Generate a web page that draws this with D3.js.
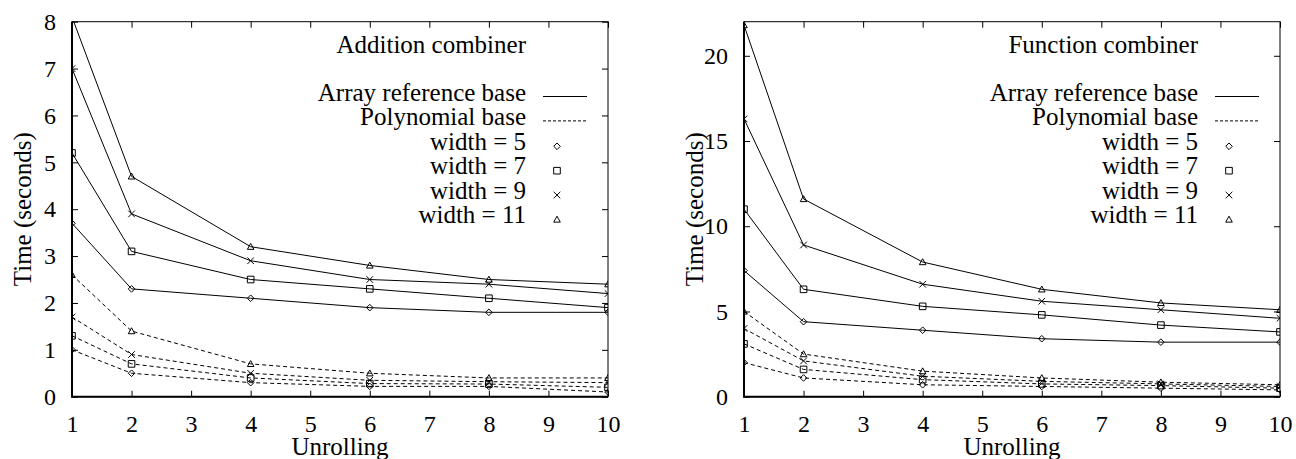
<!DOCTYPE html>
<html>
<head>
    <meta charset='utf-8' />
    <title>Unrolling timings</title>
    <script charset="utf-8" src="https://d3js.org/d3.v7.min.js"></script>
    <style>
        body {
            margin: 0;
            background: #fff;
        }

        svg text {
            font-family: 'Liberation Serif', 'Times New Roman', serif;
            font-size: 25px;
            fill: #000;
        }

        svg .tick text {
            font-size: 24px;
        }
    </style>
</head>
<body>
<div id="chartContainer"></div>
<script>
    // values, one row per width (5, 7, 9, 11)
    var widths = [5, 7, 9, 11]
    var unrolling = [1, 2, 4, 6, 8, 10]
    var xTicks = [1, 2, 3, 4, 5, 6, 7, 8, 9, 10]

    var additionArrayRef = [
        [3.7, 2.3, 2.1, 1.9, 1.8, 1.8],
        [5.2, 3.1, 2.5, 2.3, 2.1, 1.9],
        [7.0, 3.9, 2.9, 2.5, 2.4, 2.2],
        [8.1, 4.7, 3.2, 2.8, 2.5, 2.4]
    ]
    var additionPoly = [
        [1.0, 0.5, 0.3, 0.22, 0.22, 0.1],
        [1.3, 0.7, 0.4, 0.28, 0.27, 0.2],
        [1.7, 0.9, 0.5, 0.35, 0.32, 0.3],
        [2.6, 1.4, 0.7, 0.5, 0.4, 0.4]
    ]
    var additionYTicks = [0, 1, 2, 3, 4, 5, 6, 7, 8]

    var functionArrayRef = [
        [7.4, 4.4, 3.9, 3.4, 3.2, 3.2],
        [11.0, 6.3, 5.3, 4.8, 4.2, 3.8],
        [16.3, 8.9, 6.6, 5.6, 5.1, 4.6],
        [21.8, 11.6, 7.9, 6.3, 5.5, 5.1]
    ]
    var functionPoly = [
        [2.0, 1.1, 0.7, 0.6, 0.5, 0.4],
        [3.1, 1.6, 1.0, 0.75, 0.65, 0.5],
        [4.0, 2.1, 1.2, 0.9, 0.75, 0.6],
        [5.0, 2.5, 1.5, 1.1, 0.85, 0.7]
    ]
    var functionYTicks = [0, 5, 10, 15, 20]

    var legendLabels = ["Array reference base", "Polynomial base"]

    var width = 1296
    var height = 459
    var svg = d3.select("#chartContainer").append("svg")
        .attr("width", width)
        .attr("height", height)

    // hollow gnuplot style point shapes
    var s = 3.3
    var markerPaths = [
        "M0," + -s + "L" + s + ",0L0," + s + "L" + -s + ",0Z",
        "M" + -s + "," + -s + "h" + 2 * s + "v" + 2 * s + "h" + -2 * s + "Z",
        "M" + -s + "," + -s + "L" + s + "," + s + "M" + -s + "," + s + "L" + s + "," + -s,
        "M0," + -s + "L" + s + "," + s * 0.8 + "L" + -s + "," + s * 0.8 + "Z"
    ]

    function drawPanel(id, left, right, ymax, yTicks, title, arrayRef, poly, yTitleX) {
        var top = 21.7, bottom = 396.7
        var x = d3.scaleLinear().domain([1, 10]).range([left, right])
        var y = d3.scaleLinear().domain([0, ymax]).range([bottom, top])
        var g = svg.append("g")

        g.append("clipPath").attr("id", id)
            .append("rect")
            .attr("x", left).attr("y", top)
            .attr("width", right - left).attr("height", bottom - top)

        // axes with inward ticks, mirrored on top and right
        g.append("g").attr("transform", "translate(0," + bottom + ")")
            .call(d3.axisBottom(x).tickValues(xTicks).tickSize(-6).tickPadding(18))
        g.append("g").attr("transform", "translate(" + left + ",0)")
            .call(d3.axisLeft(y).tickValues(yTicks).tickSize(-6).tickPadding(16))
        g.append("g").attr("transform", "translate(0," + top + ")")
            .call(d3.axisTop(x).tickValues(xTicks).tickSize(-6).tickFormat(""))
        g.append("g").attr("transform", "translate(" + right + ",0)")
            .call(d3.axisRight(y).tickValues(yTicks).tickSize(-6).tickFormat(""))
        g.selectAll(".domain").remove()

        g.append("rect")
            .attr("x", left).attr("y", top)
            .attr("width", right - left).attr("height", bottom - top)
            .attr("fill", "none").attr("stroke", "#000").attr("stroke-width", 1)
        g.append("path")
            .attr("d", "M" + left + "," + top + "V" + bottom + "H" + right)
            .attr("fill", "none").attr("stroke", "#000").attr("stroke-width", 2)

        g.append("text")
            .attr("x", (left + right) / 2).attr("y", 455)
            .attr("text-anchor", "middle")
            .text("Unrolling")
        g.append("text")
            .attr("transform", "translate(" + yTitleX + "," + (top + bottom) / 2 + ") rotate(-90)")
            .attr("text-anchor", "middle")
            .text("Time (seconds)")

        var line = d3.line()
            .x(function (d, i) { return x(unrolling[i]) })
            .y(function (d) { return y(d) })

        var plot = g.append("g").attr("clip-path", "url(#" + id + ")")
        var sets = [{ rows: arrayRef, dash: null }, { rows: poly, dash: "4,3" }]
        sets.forEach(function (set) {
            set.rows.forEach(function (row, k) {
                plot.append("path")
                    .attr("d", line(row))
                    .attr("fill", "none")
                    .attr("stroke", "#000")
                    .attr("stroke-width", 1)
                    .attr("stroke-dasharray", set.dash)
                plot.selectAll(null)
                    .data(row.map(function (d, i) { return [unrolling[i], d] })
                        .filter(function (p) { return p[1] <= ymax }))
                    .enter()
                    .append("path")
                    .attr("transform", function (p) {
                        return "translate(" + x(p[0]) + "," + y(p[1]) + ")"
                    })
                    .attr("d", markerPaths[k])
                    .attr("fill", "none")
                    .attr("stroke", "#000")
                    .attr("stroke-width", 1)
            })
        })

        // legend
        var textX = right - 82
        g.append("text")
            .attr("x", textX).attr("y", top + 31.3)
            .attr("text-anchor", "end")
            .text(title)
        var rowY = function (i) { return top + 79.3 + i * 24.4 }
        legendLabels.forEach(function (lab, i) {
            g.append("text")
                .attr("x", textX).attr("y", rowY(i))
                .attr("text-anchor", "end")
                .text(lab)
            g.append("line")
                .attr("x1", right - 65).attr("x2", right - 21)
                .attr("y1", rowY(i) - 4.5).attr("y2", rowY(i) - 4.5)
                .attr("stroke", "#000").attr("stroke-width", 1)
                .attr("stroke-dasharray", i == 1 ? "3,2" : null)
        })
        widths.forEach(function (w, k) {
            g.append("text")
                .attr("x", textX).attr("y", rowY(k + 2))
                .attr("text-anchor", "end")
                .text("width = " + w)
            g.append("path")
                .attr("transform", "translate(" + (right - 51) + "," + (rowY(k + 2) - 3.5) + ")")
                .attr("d", markerPaths[k])
                .attr("fill", "none").attr("stroke", "#000").attr("stroke-width", 1)
        })
    }

    drawPanel("clipAdd", 72, 608, 8, additionYTicks, "Addition combiner", additionArrayRef, additionPoly, 31)
    drawPanel("clipFun", 744, 1280, 22, functionYTicks, "Function combiner", functionArrayRef, functionPoly, 703)
</script>
</body>
</html>
